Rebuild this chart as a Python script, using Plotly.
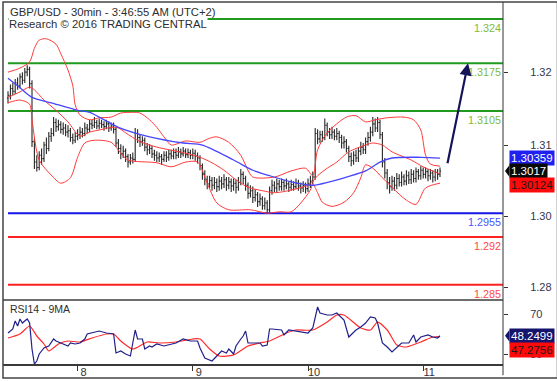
import plotly.graph_objects as go
import pandas as pd

# ---------------- data ----------------
START = "2016-08-07 09:30"          # first 30-min bar
OPEN_FIRST = 1.3124

CLOSE = [
1.3128,1.3138,1.3134,1.3146,1.3142,1.3155,1.3150,1.3162,1.3166,1.3145,
1.3060,1.3030,1.3022,1.3040,1.3035,1.3055,1.3050,1.3068,1.3072,1.3088,
1.3082,1.3085,1.3078,1.3080,1.3074,1.3076,1.3066,1.3062,1.3068,1.3070,
1.3074,1.3072,1.3080,1.3078,1.3086,1.3084,1.3088,1.3083,1.3087,1.3085,
1.3082,1.3086,1.3080,1.3083,1.3078,1.3058,1.3050,1.3042,1.3046,1.3038,
1.3030,1.3036,1.3034,1.3072,1.3066,1.3060,1.3062,1.3052,1.3048,1.3050,
1.3042,1.3040,1.3036,1.3038,1.3034,1.3040,1.3037,1.3042,1.3039,1.3044,
1.3040,1.3045,1.3042,1.3046,1.3041,1.3044,1.3040,1.3043,1.3039,1.3036,
1.3025,1.3012,1.3004,1.2998,1.3003,1.2996,1.3000,1.2994,1.3002,1.2998,
1.3004,1.2996,1.3001,1.2995,1.2999,1.2993,1.3000,1.3012,1.3006,1.2996,
1.2984,1.2988,1.2978,1.2982,1.2972,1.2976,1.2966,1.2970,1.2960,1.2988,
1.2996,1.2992,1.2998,1.2994,1.3000,1.2995,1.2998,1.2993,1.2997,1.2994,
1.2999,1.2995,1.2992,1.2996,1.2991,1.2998,1.3002,1.3008,1.3072,1.3064,
1.3070,1.3066,1.3084,1.3074,1.3070,1.3074,1.3068,1.3072,1.3066,1.3058,
1.3060,1.3050,1.3038,1.3032,1.3040,1.3036,1.3046,1.3052,1.3048,1.3060,
1.3066,1.3074,1.3086,1.3080,1.3088,1.3070,1.3030,1.3014,1.3000,1.2994,
1.3002,1.2996,1.3006,1.3000,1.3008,1.3002,1.3010,1.3004,1.3012,1.3006,
1.3016,1.3010,1.3018,1.3012,1.3016,1.3010,1.3014,1.3008,1.3015,1.3012,
1.3017]

HIGH = [
1.3134,1.3144,1.3146,1.3152,1.3154,1.3160,1.3162,1.3168,1.3172,1.3170,
1.3150,1.3066,1.3040,1.3046,1.3050,1.3060,1.3066,1.3074,1.3080,1.3096,
1.3094,1.3092,1.3090,1.3088,1.3086,1.3084,1.3080,1.3072,1.3074,1.3078,
1.3082,1.3080,1.3088,1.3086,1.3092,1.3092,1.3096,1.3092,1.3094,1.3092,
1.3090,1.3092,1.3090,1.3088,1.3088,1.3082,1.3064,1.3056,1.3054,1.3050,
1.3042,1.3042,1.3044,1.3080,1.3078,1.3070,1.3068,1.3066,1.3058,1.3056,
1.3054,1.3048,1.3046,1.3044,1.3042,1.3046,1.3046,1.3048,1.3048,1.3050,
1.3050,1.3052,1.3050,1.3052,1.3050,1.3050,1.3048,1.3050,1.3048,1.3044,
1.3040,1.3028,1.3018,1.3010,1.3010,1.3008,1.3008,1.3006,1.3010,1.3008,
1.3012,1.3008,1.3008,1.3006,1.3006,1.3004,1.3008,1.3020,1.3016,1.3010,
1.3000,1.2996,1.2994,1.2990,1.2986,1.2984,1.2980,1.2978,1.2974,1.2994,
1.3004,1.3002,1.3006,1.3004,1.3006,1.3004,1.3006,1.3002,1.3004,1.3002,
1.3006,1.3004,1.3000,1.3002,1.3000,1.3006,1.3010,1.3016,1.3080,1.3078,
1.3076,1.3076,1.3094,1.3088,1.3080,1.3082,1.3078,1.3080,1.3076,1.3070,
1.3068,1.3064,1.3054,1.3044,1.3046,1.3048,1.3052,1.3060,1.3058,1.3066,
1.3074,1.3082,1.3096,1.3094,1.3096,1.3092,1.3074,1.3036,1.3020,1.3008,
1.3010,1.3008,1.3014,1.3012,1.3016,1.3012,1.3018,1.3016,1.3020,1.3018,
1.3022,1.3020,1.3024,1.3022,1.3022,1.3020,1.3020,1.3018,1.3020,1.3020,
1.3022]

LOW = [
1.3116,1.3122,1.3128,1.3130,1.3136,1.3138,1.3144,1.3146,1.3156,1.3138,
1.3052,1.3020,1.3016,1.3018,1.3026,1.3030,1.3042,1.3046,1.3060,1.3068,
1.3074,1.3076,1.3072,1.3070,1.3068,1.3066,1.3060,1.3056,1.3058,1.3062,
1.3064,1.3066,1.3068,1.3072,1.3074,1.3078,1.3080,1.3078,1.3078,1.3080,
1.3076,1.3078,1.3074,1.3076,1.3072,1.3052,1.3042,1.3034,1.3036,1.3030,
1.3022,1.3026,1.3028,1.3030,1.3058,1.3052,1.3054,1.3046,1.3040,1.3042,
1.3036,1.3032,1.3030,1.3030,1.3026,1.3030,1.3030,1.3032,1.3034,1.3034,
1.3034,1.3036,1.3036,1.3038,1.3036,1.3036,1.3034,1.3034,1.3032,1.3028,
1.3018,1.3004,1.2996,1.2990,1.2992,1.2988,1.2990,1.2986,1.2988,1.2990,
1.2992,1.2988,1.2990,1.2986,1.2988,1.2984,1.2988,1.2996,1.2998,1.2988,
1.2976,1.2978,1.2970,1.2972,1.2964,1.2966,1.2960,1.2960,1.2954,1.2956,
1.2982,1.2986,1.2986,1.2988,1.2988,1.2988,1.2990,1.2986,1.2988,1.2988,
1.2990,1.2988,1.2984,1.2986,1.2984,1.2986,1.2992,1.2998,1.3004,1.3056,
1.3058,1.3060,1.3062,1.3068,1.3064,1.3064,1.3062,1.3062,1.3058,1.3050,
1.3050,1.3044,1.3030,1.3024,1.3026,1.3030,1.3030,1.3040,1.3042,1.3042,
1.3054,1.3060,1.3068,1.3074,1.3074,1.3064,1.3022,1.3006,1.2990,1.2984,
1.2988,1.2988,1.2990,1.2994,1.2994,1.2996,1.2996,1.2998,1.2998,1.3000,
1.3000,1.3004,1.3004,1.3006,1.3006,1.3002,1.3004,1.3000,1.3002,1.3004,
1.3008]

# Bollinger bands (bar index -> value)
UB_IDX = [0,5,9,11,13,16,20,22,25,27,28,30,34,38,43,47,52,55,59,62,65,68,74,80,84,87,92,97,100,102,
          111,118,124,127,129,133,141,145,149,153,158,165,169,172,174,176,180]
UB_VAL = [1.3162,1.3168,1.3177,1.3197,1.3209,1.3211,1.3203,1.3189,1.3165,1.3142,1.3114,1.3099,1.3092,1.3095,
          1.3096,1.3102,1.3103,1.3102,1.3092,1.3081,1.3067,1.3055,1.3061,1.3059,1.3065,1.3067,1.3059,1.3040,
          1.3018,1.3008,1.3008,1.3017,1.3021,1.3010,1.3048,1.3073,1.3096,1.3098,1.3089,1.3092,1.3095,1.3096,
          1.3092,1.3077,1.3040,1.3027,1.3024]
MID_IDX = [0,5,9,11,15,20,25,30,34,38,43,46,49,55,62,74,80,85,90,95,100,106,111,118,126,129,133,137,142,149,
           152,156,160,168,173,180]
MID_VAL = [1.3125,1.3133,1.3140,1.3136,1.3121,1.3106,1.3089,1.3068,1.3074,1.3077,1.3081,1.3080,1.3073,1.3060,
           1.3052,1.3043,1.3037,1.3029,1.3018,1.3004,1.2993,1.2988,1.2985,1.2989,1.2998,1.3010,1.3021,1.3030,
           1.3045,1.3055,1.3058,1.3055,1.3045,1.3033,1.3023,1.30124]
LB_IDX = [0,5,9,10,13,18,22,26,29,32,36,43,47,50,62,68,74,79,83,87,92,101,108,113,118,122,126,127,129,131,
          135,140,144,147,149,152,156,160,166,170,174,180]
LB_VAL = [1.3117,1.3121,1.3115,1.3092,1.3033,1.3011,1.2999,1.3007,1.3037,1.3058,1.3062,1.3059,1.3043,1.3033,
          1.3029,1.3023,1.3030,1.3030,1.2999,1.2970,1.2960,1.2960,1.2955,1.2957,1.2957,1.2970,1.2989,1.2998,
          1.2985,1.2971,1.2965,1.2971,1.2985,1.3007,1.3026,1.3021,1.3007,1.2993,1.2974,1.2968,1.2992,1.2999]
# blue moving average
MA_IDX = [0,5,10,18,29,34,46,59,73,81,94,102,109,118,127,134,141,149,155,160,172,180]
MA_VAL = [1.3153,1.3139,1.3125,1.3117,1.3106,1.3103,1.3081,1.3067,1.3058,1.3055,1.3033,1.3018,1.3010,1.3001,
          1.2996,1.3001,1.3008,1.3017,1.3030,1.3036,1.3037,1.30359]

# RSI14 and its 9MA
RSI_IDX = [0,2,3,4,5,6,8,9,10,11,12,13,15,17,19,20,22,25,26,28,30,32,33,35,38,41,44,45,47,49,
           51,52,53,54,56,57,59,60,62,65,67,70,73,76,79,80,82,85,87,89,91,92,94,95,97,98,99,100,102,105,
           106,108,109,110,114,115,117,122,125,127,128,129,130,133,135,137,140,142,145,147,149,151,153,154,
           156,158,160,162,164,167,169,170,172,175,177,179,180]
RSI_VAL = [51,55,63,58,65,61,65,61,35,20,23,30,36,38,45,43,41,38,41,40,41,45,50,51,53,51,50,31,33,30,
           28,41,54,45,45,35,38,37,40,38,39,41,45,43,43,36,26,23,28,33,31,35,30,38,45,48,53,41,41,41,
           38,39,55,55,54,49,54,52,51,56,67,77,71,69,69,71,64,47,54,57,61,67,66,61,41,37,32,37,41,41,
           49,42,47,49,47,46,48.2499]
RMA_IDX = [0,5,9,12,15,17,21,25,30,35,41,44,47,52,58,63,70,77,80,84,88,94,100,105,109,116,120,127,133,137,
           140,147,151,154,158,162,166,172,177,180]
RMA_VAL = [46,50,58,48,40,33,40,43,42,46,50,50,43,35,42,41,42,45,45,35,28,29,38,41,43,51,54,54,62,69,
           69,56,54,62,54,39,37,42,47,47.2756]

# horizontal levels
RES_LEVELS = [1.324, 1.3175, 1.3105]
PIVOT_LEVEL = [1.2955]
SUP_LEVELS = [1.292, 1.285]

# projected arrow (time, price)
ARROW_TAIL = ("2016-08-11 05:00", 1.3026)
ARROW_TIP = ("2016-08-11 09:20", 1.3175)

PRICE_TICKS = [1.31622, 1.30550, 1.29508, 1.28466]
PRICE_TICK_TEXT = ["1.32", "1.31", "1.30", "1.28"]
RSI_TICKS = [70, 30]
RSI_TICK_TEXT = ["70", "30"]
DAY_TICKS = ["2016-08-08", "2016-08-09", "2016-08-10", "2016-08-11"]
DAY_TEXT = ["8", "9", "10", "11"]

TITLE1 = "GBP/USD - 30min - 3:46:55 AM (UTC+2)"
TITLE2 = "Research \u00a9 2016 TRADING CENTRAL"
RSI_TITLE = "RSI14 - 9MA"

# ---------------- build ----------------
TIMES = pd.date_range(START, periods=len(CLOSE), freq="30min")
OPEN = [OPEN_FIRST] + CLOSE[:-1]
bar = pd.Timedelta(minutes=30)
X_RANGE = [TIMES[0] - 2.083 * bar, TIMES[0] + 206.25 * bar]


def at(idx):
    return [TIMES[i] for i in idx]


FONT = "Liberation Sans, Arial, sans-serif"
RED = "#ff2b2b"
fig = go.Figure()
band = dict(color="#ff3a3a", width=1, shape="spline", smoothing=0.8)
fig.add_trace(go.Scatter(x=at(UB_IDX), y=UB_VAL, mode="lines", line=band, hoverinfo="skip"))
fig.add_trace(go.Scatter(x=at(MID_IDX), y=MID_VAL, mode="lines", line=band, hoverinfo="skip"))
fig.add_trace(go.Scatter(x=at(LB_IDX), y=LB_VAL, mode="lines", line=band, hoverinfo="skip"))
fig.add_trace(go.Scatter(x=at(MA_IDX), y=MA_VAL, mode="lines",
                         line=dict(color="#4646ff", width=1.3, shape="spline", smoothing=0.8)))
fig.add_trace(go.Ohlc(x=TIMES, open=OPEN, high=HIGH, low=LOW, close=CLOSE,
                      increasing_line_color="#262626", decreasing_line_color="#262626",
                      line_width=1.1, tickwidth=0.45))
fig.add_trace(go.Scatter(x=at(RMA_IDX), y=RMA_VAL, mode="lines", yaxis="y2",
                         line=dict(color=RED, width=1.2, shape="spline", smoothing=0.6)))
fig.add_trace(go.Scatter(x=at(RSI_IDX), y=RSI_VAL, mode="lines", yaxis="y2",
                         line=dict(color="#20208a", width=1.2)))

SPLIT = 64 / 361  # RSI panel share of plot height

shapes = []
for lv in RES_LEVELS:
    shapes.append(dict(type="line", xref="paper", yref="y", x0=0.01, x1=1, y0=lv, y1=lv,
                       line=dict(color="#1f9a1f", width=2), layer="below"))
for lv in PIVOT_LEVEL:
    shapes.append(dict(type="line", xref="paper", yref="y", x0=0.01, x1=1, y0=lv, y1=lv,
                       line=dict(color="#1515e8", width=2), layer="below"))
for lv in SUP_LEVELS:
    shapes.append(dict(type="line", xref="paper", yref="y", x0=0.01, x1=1, y0=lv, y1=lv,
                       line=dict(color="#ff2020", width=2), layer="below"))
# panel separator, right axis line, frame
shapes.append(dict(type="line", xref="paper", yref="paper", x0=0, x1=1, y0=SPLIT, y1=SPLIT,
                   line=dict(color="#3c3c3c", width=1.5)))
shapes.append(dict(type="line", xref="paper", yref="paper", x0=1, x1=1, y0=-0.031, y1=1.003,
                   line=dict(color="#333333", width=1)))
shapes.append(dict(type="rect", xref="paper", yref="paper", x0=0, x1=1.109, y0=-0.0388, y1=1.003,
                   line=dict(color="#444444", width=1.5)))

ann = []
ann.append(dict(xref="paper", yref="paper", x=0.01, y=(364 - 12.5) / 361, xanchor="left", yanchor="middle",
                text=TITLE1, showarrow=False, font=dict(family=FONT, size=11.3, color="#2e2e2e")))
ann.append(dict(xref="paper", yref="paper", x=0.01, y=(364 - 24.5) / 361, xanchor="left", yanchor="middle",
                text=TITLE2, showarrow=False, bgcolor="white", borderpad=0,
                font=dict(family=FONT, size=11.3, color="#2e2e2e")))
ann.append(dict(xref="paper", yref="paper", x=0.01, y=(364 - 308.5) / 361, xanchor="left", yanchor="middle",
                text=RSI_TITLE, showarrow=False, font=dict(family=FONT, size=10.5, color="#2e2e2e")))

lvl_specs = ([(v, "#7dbb3c") for v in RES_LEVELS] + [(v, "#4a55ff") for v in PIVOT_LEVEL]
             + [(v, "#ff4a4a") for v in SUP_LEVELS])
for v, c in lvl_specs:
    ann.append(dict(xref="paper", yref="y", x=1.0, y=v, xanchor="right", yanchor="top", yshift=-1,
                    text=("%g" % v), showarrow=False, font=dict(family=FONT, size=10.8, color=c)))

# projection arrow
ann.append(dict(x=ARROW_TIP[0], y=ARROW_TIP[1], ax=ARROW_TAIL[0], ay=ARROW_TAIL[1],
                xref="x", yref="y", axref="x", ayref="y", text="", showarrow=True,
                arrowhead=2, arrowsize=1.1, arrowwidth=2.2, arrowcolor="#14145a", standoff=0))

# last-value boxes
boxfont = dict(family=FONT, size=11.5)
ann.append(dict(xref="paper", yref="y", x=1.012, y=MA_VAL[-1], xanchor="left", yanchor="middle",
                text="%.5f" % MA_VAL[-1], showarrow=False, bgcolor="#1f1ff0", borderpad=1,
                font=dict(color="white", **boxfont)))
ann.append(dict(xref="paper", yref="y", x=1.012, y=CLOSE[-1], xanchor="left", yanchor="middle",
                text="%.4f" % CLOSE[-1], showarrow=False, bgcolor="#0a0a0a", borderpad=1,
                font=dict(color="white", **boxfont)))
ann.append(dict(xref="paper", yref="y", x=1.012, y=MID_VAL[-1], xanchor="left", yanchor="middle", yshift=-11,
                text="%.5f" % MID_VAL[-1], showarrow=False, bgcolor="#ff0a0a", borderpad=1,
                font=dict(color="#1a1a1a", **boxfont)))
ann.append(dict(xref="paper", yref="y2", x=1.012, y=RSI_VAL[-1], xanchor="left", yanchor="middle",
                text="%.4f" % RSI_VAL[-1], showarrow=False, bgcolor="#15156e", borderpad=1,
                font=dict(color="white", **boxfont)))
ann.append(dict(xref="paper", yref="y2", x=1.012, y=RMA_VAL[-1], xanchor="left", yanchor="middle", yshift=-13,
                text="%.4f" % RMA_VAL[-1], showarrow=False, bgcolor="#ff0a0a", borderpad=1,
                font=dict(color="#1a1a1a", **boxfont)))

# pointer triangles for close and RSI boxes
dp = 6 / 6813
shapes.append(dict(type="path", xref="paper", yref="y", fillcolor="#0a0a0a", line=dict(width=0),
                   path="M 1.004 %f L 1.013 %f L 1.013 %f Z" % (CLOSE[-1], CLOSE[-1] + dp, CLOSE[-1] - dp)))
shapes.append(dict(type="path", xref="paper", yref="y2", fillcolor="#15156e", line=dict(width=0),
                   path="M 1.004 %f L 1.013 %f L 1.013 %f Z" % (RSI_VAL[-1], RSI_VAL[-1] + 6, RSI_VAL[-1] - 6)))

axfont = dict(family=FONT, size=11, color="#35354f")
fig.update_layout(
    width=557, height=381, margin=dict(l=3, r=54, t=3, b=17, autoexpand=False),
    paper_bgcolor="white", plot_bgcolor="white", showlegend=False,
    font=dict(family=FONT),
    xaxis=dict(type="date", range=X_RANGE, anchor="y2", domain=[0, 1], showgrid=False, zeroline=False,
               automargin=False,
               tickvals=DAY_TICKS, ticktext=DAY_TEXT, ticks="outside", ticklen=5, tickcolor="#333",
               tickfont=dict(family=FONT, size=11, color="#333"), showline=True, linecolor="#3a3a3a",
               linewidth=1.5, rangeslider=dict(visible=False), ticklabelshift=6, ticklabelstandoff=-8),
    yaxis=dict(domain=[SPLIT, 1], range=[1.282756, 1.326348], side="right", anchor="x", showgrid=False,
               automargin=False,
               zeroline=False, tickvals=PRICE_TICKS, ticktext=PRICE_TICK_TEXT, ticks="outside", ticklen=4,
               tickcolor="#333", tickfont=axfont, ticklabelstandoff=20),
    yaxis2=dict(domain=[0, SPLIT], range=[20, 84], side="right", anchor="x", showgrid=False, zeroline=False,
                automargin=False,
                tickvals=RSI_TICKS, ticktext=RSI_TICK_TEXT, ticks="outside", ticklen=4, tickcolor="#333",
                tickfont=axfont, ticklabelstandoff=20),
    shapes=shapes, annotations=ann,
)
fig.write_html("out.html", config={"displayModeBar": False},
               post_script="document.body.style.margin='0';document.body.style.overflow='hidden';")
